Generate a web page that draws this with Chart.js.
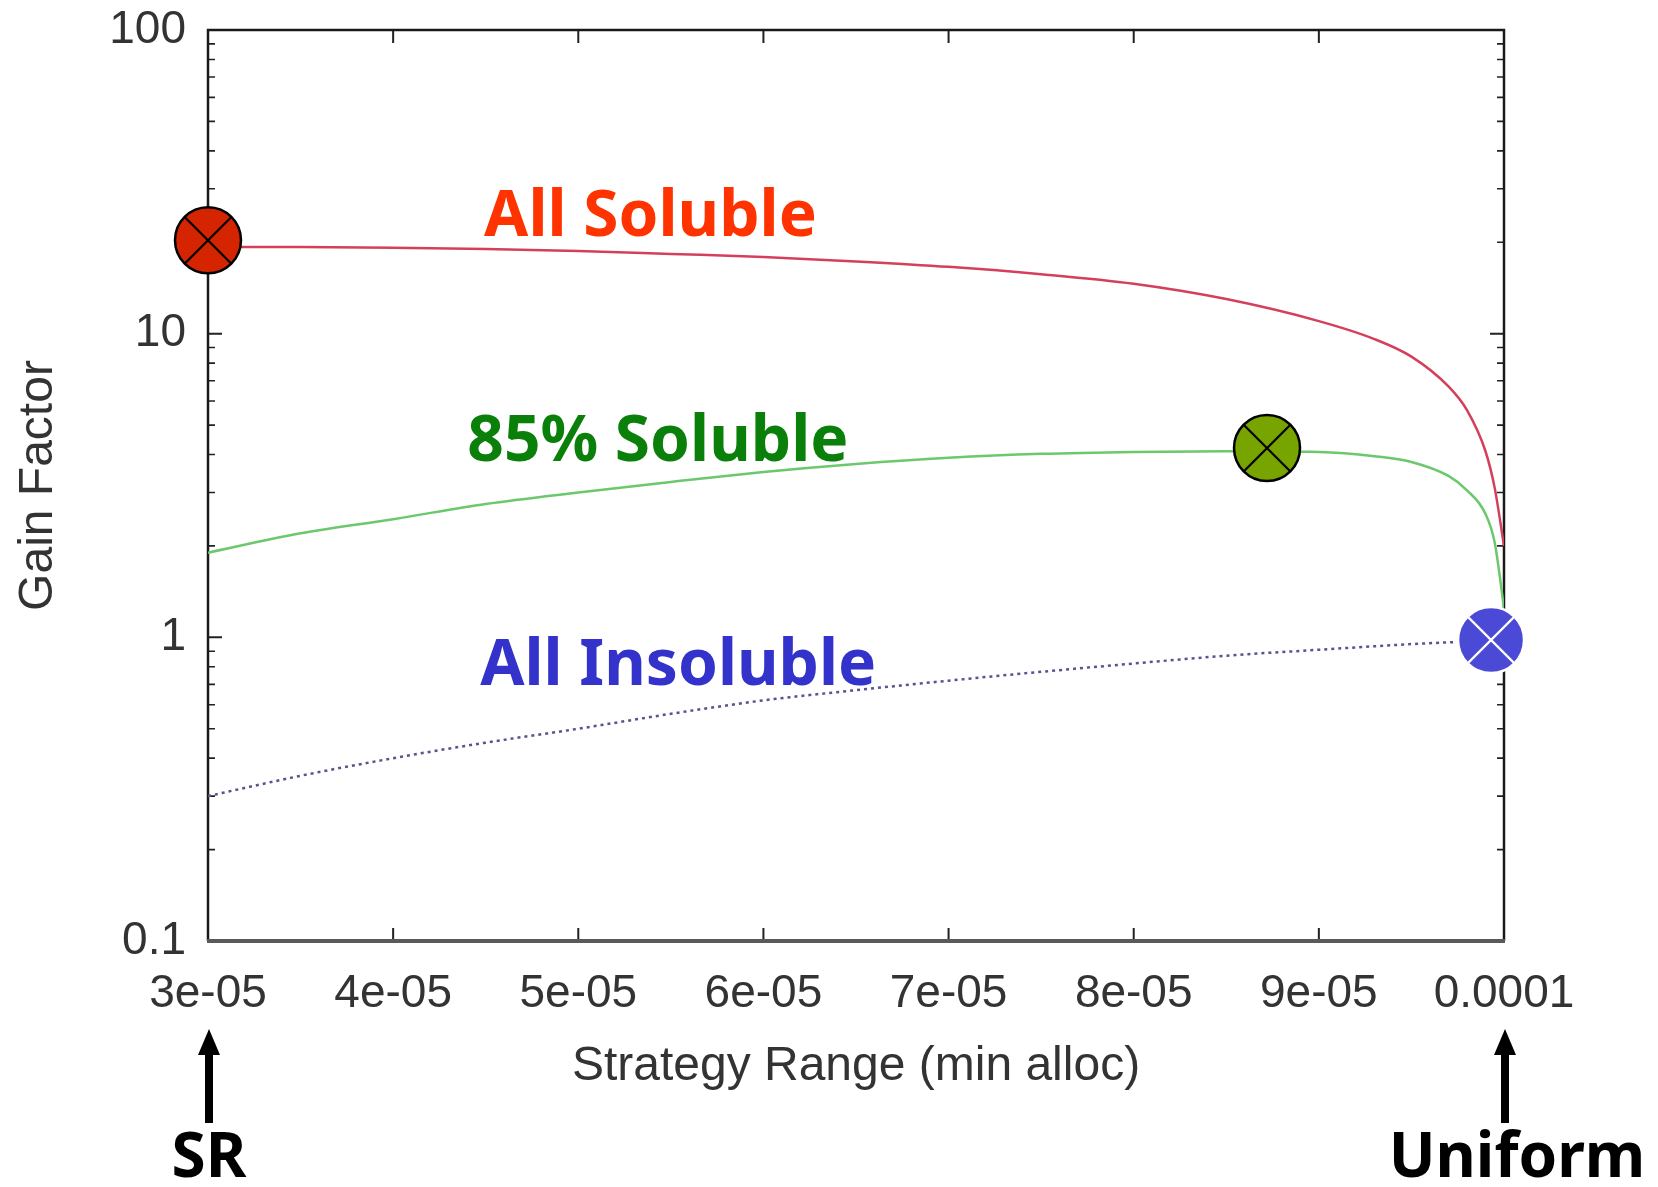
<!DOCTYPE html>
<html><head><meta charset="utf-8">
<script src="https://cdn.jsdelivr.net/npm/chart.js@4.4.1/dist/chart.umd.min.js"></script>
<style>html,body{margin:0;padding:0;background:#fff;}canvas{display:block;}</style>
</head><body>
<canvas id="c" width="1658" height="1187"></canvas>
<script>
// ---- data ----
const xCurve = [3.0e-5,3.5e-5,4.0e-5,4.5e-5,5.0e-5,5.5e-5,6.0e-5,6.5e-5,7.0e-5,7.5e-5,8.0e-5,8.5e-5,9.0e-5,9.3e-5,9.5e-5,9.7e-5,9.8e-5,9.9e-5,9.95e-5,10.0e-5];
const allSoluble = [19.3,19.3,19.2,19.0,18.7,18.3,17.9,17.3,16.6,15.7,14.6,13.0,11.0,9.6,8.4,6.7,5.6,4.1,3.1,2.0];
const soluble85 = [1.9,2.2,2.45,2.75,3.0,3.25,3.5,3.72,3.9,4.02,4.08,4.1,4.08,3.95,3.78,3.4,3.05,2.55,2.05,1.25];
const xInsoluble = [3.0e-5,3.5e-5,4.0e-5,4.5e-5,5.0e-5,5.5e-5,6.0e-5,6.5e-5,7.0e-5,7.5e-5,8.0e-5,8.5e-5,9.0e-5,9.5e-5,10.0e-5];
const allInsoluble = [0.30,0.35,0.40,0.45,0.50,0.56,0.62,0.67,0.72,0.77,0.82,0.87,0.91,0.95,0.98];

const markerX = [3.0e-5, 8.72e-5, 9.93e-5];
const markerY = [20.3, 4.2, 0.98];
const markerFill = ['#d42400', '#78a400', '#4a4ad6'];
const markerLine = ['#000000', '#000000', '#ffffff'];

const xTickValues = [3e-5,4e-5,5e-5,6e-5,7e-5,8e-5,9e-5,1e-4];
const xTickLabels = ['3e-05','4e-05','5e-05','6e-05','7e-05','8e-05','9e-05','0.0001'];
const yTickValues = [0.1,1,10,100];
const yTickLabels = ['0.1','1','10','100'];
const yMinorSteps = [2,3,4,5,6,7,8,9];

const annoTexts = ['All Soluble','85% Soluble','All Insoluble'];
const annoX = [5.39e-5, 5.43e-5, 5.54e-5];
const annoY = [24.0, 4.36, 0.797];
const annoColors = ['#ff3300', '#0a800a', '#3333cc'];

const endX = [3e-5, 1e-4];
const endLabels = ['SR', 'Uniform'];
const endLabelShift = [0, 12];

const xTitle = 'Strategy Range (min alloc)';
const yTitle = 'Gain Factor';

// ---- helpers ----
const pts = (xs, ys) => xs.map((x, i) => ({x, y: ys[i]}));
const annoFont = 'bold 64px "Comic Sans MS", "Noto Sans", sans-serif';
const endFont = 'bold 62px "Comic Sans MS", "Noto Sans", sans-serif';

const framePlugin = {
  id: 'frame',
  beforeDatasetsDraw(chart) {
    const {ctx, chartArea: a, scales: {x, y}} = chart;
    ctx.save();
    ctx.strokeStyle = '#222';
    ctx.lineWidth = 2;
    ctx.beginPath();
    xTickValues.forEach(v => {
      const px = x.getPixelForValue(v);
      ctx.moveTo(px, a.bottom); ctx.lineTo(px, a.bottom - 13);
      ctx.moveTo(px, a.top); ctx.lineTo(px, a.top + 13);
    });
    yTickValues.forEach(v => {
      const py = y.getPixelForValue(v);
      ctx.moveTo(a.left, py); ctx.lineTo(a.left + 14, py);
      ctx.moveTo(a.right, py); ctx.lineTo(a.right - 14, py);
    });
    ctx.stroke();
    ctx.lineWidth = 1.6;
    ctx.beginPath();
    yTickValues.slice(0, -1).forEach(d => yMinorSteps.forEach(m => {
      const py = y.getPixelForValue(d * m);
      ctx.moveTo(a.left, py); ctx.lineTo(a.left + 7, py);
      ctx.moveTo(a.right, py); ctx.lineTo(a.right - 7, py);
    }));
    ctx.stroke();
    ctx.lineWidth = 2.5;
    ctx.strokeStyle = '#1a1a1a';
    ctx.beginPath();
    ctx.moveTo(a.left, a.bottom); ctx.lineTo(a.left, a.top);
    ctx.lineTo(a.right, a.top); ctx.lineTo(a.right, a.bottom);
    ctx.stroke();
    ctx.lineWidth = 4;
    ctx.strokeStyle = '#5a5a5a';
    ctx.beginPath();
    ctx.moveTo(a.left - 1, a.bottom); ctx.lineTo(a.right + 1, a.bottom);
    ctx.stroke();
    ctx.restore();
  },
  afterDatasetsDraw(chart) {
    const {ctx, chartArea: a, scales: {x, y}} = chart;
    ctx.save();
    ctx.font = annoFont;
    ctx.textAlign = 'center';
    ctx.textBaseline = 'middle';
    annoTexts.forEach((t, i) => {
      ctx.fillStyle = annoColors[i];
      ctx.fillText(t, x.getPixelForValue(annoX[i]), y.getPixelForValue(annoY[i]));
    });
    // arrows and end labels
    ctx.font = endFont;
    ctx.fillStyle = '#000';
    ctx.strokeStyle = '#000';
    endX.forEach((v, i) => {
      const px = x.getPixelForValue(v) + 1;
      const tip = a.bottom + 88, base = a.bottom + 182;
      ctx.lineWidth = 8;
      ctx.beginPath(); ctx.moveTo(px, base); ctx.lineTo(px, tip + 20); ctx.stroke();
      ctx.beginPath(); ctx.moveTo(px, tip); ctx.lineTo(px - 11, tip + 26); ctx.lineTo(px + 11, tip + 26); ctx.closePath(); ctx.fill();
      ctx.fillText(endLabels[i], px + endLabelShift[i], a.bottom + 218);
    });
    ctx.restore();
  }
};

new Chart(document.getElementById('c'), {
  type: 'line',
  data: {
    datasets: [
      {
        label: 'marker-cross', data: pts(markerX, markerY), showLine: false,
        pointStyle: 'crossRot', pointRadius: 32, borderWidth: 2.2,
        pointBorderColor: markerLine, pointBackgroundColor: 'rgba(0,0,0,0)', clip: false
      },
      {
        label: 'marker-circle', data: pts(markerX, markerY), showLine: false,
        pointStyle: 'circle', pointRadius: 33, pointBorderWidth: 2.5,
        pointBackgroundColor: markerFill, pointBorderColor: markerLine, clip: false
      },
      {
        label: 'All Soluble', data: pts(xCurve, allSoluble),
        borderColor: '#d4405c', borderWidth: 2.5, pointRadius: 0,
        cubicInterpolationMode: 'monotone'
      },
      {
        label: '85% Soluble', data: pts(xCurve, soluble85),
        borderColor: '#6cc86c', borderWidth: 2.5, pointRadius: 0,
        cubicInterpolationMode: 'monotone'
      },
      {
        label: 'All Insoluble', data: pts(xInsoluble, allInsoluble),
        borderColor: '#555590', borderWidth: 2.5, pointRadius: 0,
        borderDash: [3, 4], cubicInterpolationMode: 'monotone'
      }
    ]
  },
  options: {
    responsive: false,
    animation: false,
    events: [],
    layout: {autoPadding: false, padding: {left: 0, top: 30, right: 154, bottom: 86}},
    plugins: {legend: {display: false}, tooltip: {enabled: false}, title: {display: false}},
    scales: {
      x: {
        type: 'linear', min: 3e-5, max: 1e-4,
        afterBuildTicks: s => { s.ticks = xTickValues.map(v => ({value: v})); },
        afterFit: s => { s.height = 160; s.paddingLeft = 0; s.paddingRight = 0; },
        grid: {display: false, drawTicks: false},
        border: {display: false},
        ticks: {
          autoSkip: false, maxRotation: 0, padding: 26, color: '#333',
          font: {family: '"Liberation Sans", Arial, sans-serif', size: 46},
          callback: (v, i) => xTickLabels[i]
        },
        title: {
          display: true, text: xTitle, color: '#333',
          font: {family: '"Liberation Sans", Arial, sans-serif', size: 48},
          padding: {top: 0, bottom: 5}
        }
      },
      y: {
        type: 'logarithmic', min: 0.1, max: 100,
        afterBuildTicks: s => { s.ticks = yTickValues.map(v => ({value: v})); },
        afterFit: s => { s.width = 208; s.paddingTop = 0; s.paddingBottom = 0; },
        grid: {display: false, drawTicks: false},
        border: {display: false},
        ticks: {
          autoSkip: false, padding: 22, color: '#333',
          font: {family: '"Liberation Sans", Arial, sans-serif', size: 46},
          callback: (v, i) => yTickLabels[i]
        },
        title: {
          display: true, text: yTitle, color: '#333',
          font: {family: '"Liberation Sans", Arial, sans-serif', size: 48},
          padding: {top: 10, bottom: 0}
        }
      }
    }
  },
  plugins: [framePlugin]
});
</script>
</body></html>
